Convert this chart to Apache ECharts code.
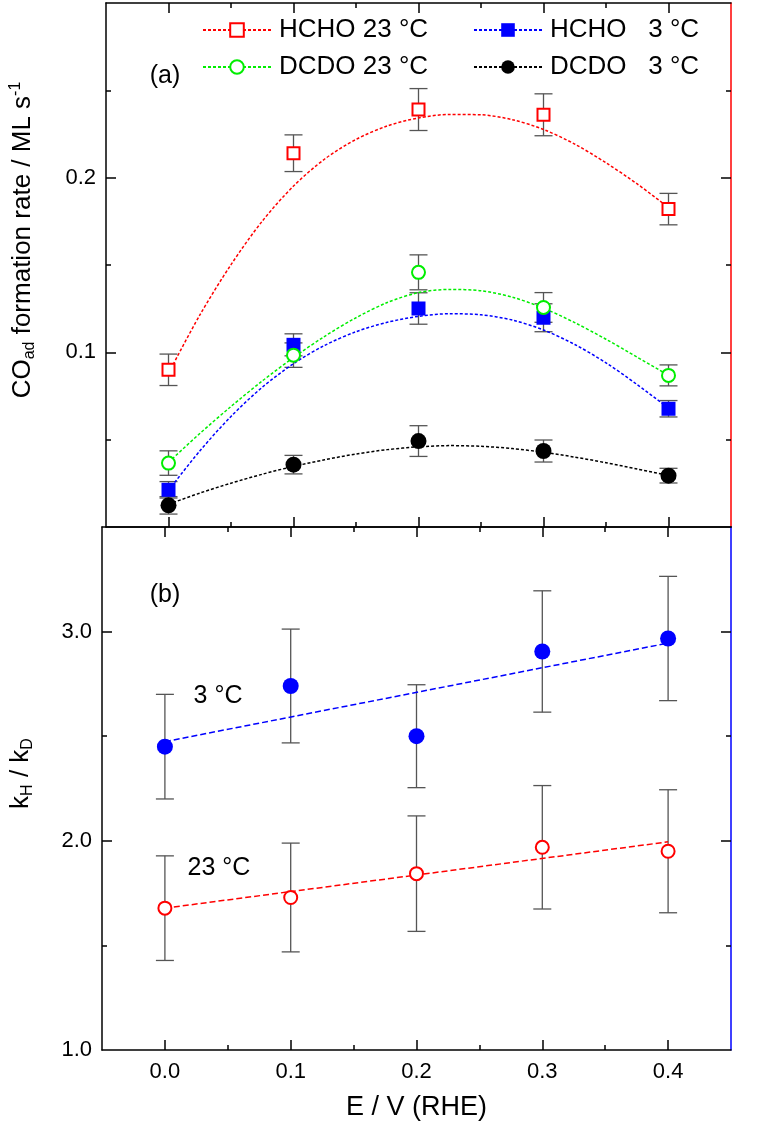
<!DOCTYPE html>
<html><head><meta charset="utf-8">
<script src="https://cdn.jsdelivr.net/npm/echarts@6/dist/echarts.min.js"></script>
<style>html,body{margin:0;padding:0;background:#fff}#chart{width:765px;height:1127px}</style>
</head><body><div id="chart"></div>
<script>
// ---------- data ----------
const potentials = [0, 0.1, 0.2, 0.3, 0.4];
const fitPotentials = [0, 0.025, 0.05, 0.075, 0.1, 0.125, 0.15, 0.175, 0.2,
                       0.225, 0.25, 0.275, 0.3, 0.325, 0.35, 0.375, 0.4];

const hcho23 = [0.090, 0.214, 0.239, 0.236, 0.182];
const hcho23Err = [0.009, 0.0105, 0.012, 0.012, 0.009];
const dcdo23 = [0.0366, 0.0984, 0.1458, 0.1257, 0.0868];
const dcdo23Err = [0.007, 0.007, 0.010, 0.0085, 0.006];
const hcho3 = [0.0213, 0.1043, 0.1251, 0.1198, 0.0677];
const hcho3Err = [0.0047, 0.0063, 0.009, 0.008, 0.0047];
const dcdo3 = [0.0124, 0.0357, 0.0492, 0.0435, 0.0294];
const dcdo3Err = [0.005, 0.0053, 0.0088, 0.0063, 0.0042];

const hcho23Fit = [0.088, 0.1213, 0.1502, 0.1751, 0.1952, 0.2107, 0.2219, 0.2296, 0.2342,
                   0.2362, 0.2360, 0.2332, 0.2276, 0.2192, 0.2085, 0.1964, 0.1829];
const dcdo23Fit = [0.037, 0.0535, 0.069, 0.0836, 0.0970, 0.1092, 0.1198, 0.1285, 0.1342,
                   0.1360, 0.1353, 0.1316, 0.1253, 0.1170, 0.1075, 0.0972, 0.0868];
const hcho3Fit  = [0.021, 0.0435, 0.0633, 0.0800, 0.0935, 0.1040, 0.1118, 0.1172, 0.1206,
                   0.1221, 0.1215, 0.1185, 0.1128, 0.1045, 0.0940, 0.0815, 0.068];
const dcdo3Fit  = [0.013, 0.0194, 0.0251, 0.0302, 0.0347, 0.0385, 0.0418, 0.0443, 0.0459,
                   0.0466, 0.0462, 0.0449, 0.0428, 0.0400, 0.0368, 0.0332, 0.0295];

const kie3 = [2.45, 2.74, 2.50, 2.905, 2.967];
const kie3Err = [0.25, 0.272, 0.246, 0.29, 0.297];
const kie23 = [1.678, 1.729, 1.843, 1.969, 1.950];
const kie23Err = [0.25, 0.26, 0.276, 0.295, 0.294];
const fitLineX = [0, 0.4];
const kie3Fit = [2.474, 2.945];
const kie23Fit = [1.678, 1.995];

const xMajor = [0, 0.1, 0.2, 0.3, 0.4];
const xMinor = [0.05, 0.15, 0.25, 0.35];
const yTopMajor = [0.1, 0.2];
const yTopMinor = [0.05, 0.15, 0.25];
const yBotLabels = [1, 2, 3];
const yBotMajor = [2, 3];
const yBotMinor = [1.5, 2.5];

// ---------- helpers ----------
const FONT = 'Liberation Sans, Arial, Helvetica, sans-serif';
const tickStyle = {color: '#000', width: 1.5};

function xAx(grid, pos, ticks, len, showLine, extra) {
  return Object.assign({
    type: 'value', gridIndex: grid, position: pos, min: -0.05, max: 0.45,
    axisLine: {show: showLine, onZero: false, lineStyle: {color: '#000', width: 1.5}},
    axisTick: {show: true, inside: true, length: len, customValues: ticks, lineStyle: tickStyle},
    axisLabel: {show: false},
    splitLine: {show: false}
  }, extra || {});
}
function yAx(grid, pos, min, max, ticks, len, showLine, lineColor, extra) {
  return Object.assign({
    type: 'value', gridIndex: grid, position: pos, min: min, max: max,
    axisLine: {show: showLine, onZero: false, lineStyle: {color: lineColor, width: 1.5}},
    axisTick: {show: true, inside: true, length: len, customValues: ticks, lineStyle: tickStyle},
    axisLabel: {show: false},
    splitLine: {show: false}
  }, extra || {});
}
function errSeries(xi, yi, vals, errs) {
  return {
    type: 'custom', xAxisIndex: xi, yAxisIndex: yi, z: 1, silent: true,
    data: potentials.map((x, i) => [x, vals[i] - errs[i], vals[i] + errs[i]]),
    encode: {x: 0, y: [1, 2]},
    renderItem: function (params, api) {
      const x = api.value(0);
      const lo = api.coord([x, api.value(1)]);
      const hi = api.coord([x, api.value(2)]);
      const hw = 9;
      const st = {stroke: '#555', lineWidth: 1.3};
      return {type: 'group', children: [
        {type: 'line', shape: {x1: lo[0], y1: lo[1], x2: hi[0], y2: hi[1]}, style: st},
        {type: 'line', shape: {x1: lo[0] - hw, y1: lo[1], x2: lo[0] + hw, y2: lo[1]}, style: st},
        {type: 'line', shape: {x1: hi[0] - hw, y1: hi[1], x2: hi[0] + hw, y2: hi[1]}, style: st}
      ]};
    }
  };
}
function fitSeries(name, xi, yi, xs, ys, color, dash, symbol) {
  return {
    type: 'line', name: name, xAxisIndex: xi, yAxisIndex: yi, z: 2, silent: true,
    data: xs.map((x, i) => [x, ys[i]]),
    smooth: xs.length > 2 ? 0.3 : false, showSymbol: false, symbol: symbol, symbolSize: 14,
    itemStyle: {color: color},
    lineStyle: {color: color, width: 1.5, type: dash}
  };
}
function markSeries(name, xi, yi, vals, symbol, size, fill, stroke, bw) {
  return {
    type: 'scatter', name: name, xAxisIndex: xi, yAxisIndex: yi, z: 3, silent: true,
    data: potentials.map((x, i) => [x, vals[i]]),
    symbol: symbol, symbolSize: size,
    itemStyle: {color: fill, borderColor: stroke, borderWidth: bw, opacity: 1}
  };
}

const dotted = [3, 2];
const dashed = [6, 3];
const legendText = {fontSize: 26, color: '#000', lineHeight: 26, fontFamily: FONT, padding: [0, 0, 0, 3]};

const option = {
  animation: false,
  backgroundColor: '#fff',
  textStyle: {fontFamily: FONT},
  grid: [
    {left: 102, right: 34, top: 3, height: 524},
    {left: 102, right: 34, top: 527, height: 523}
  ],
  xAxis: [
    xAx(0, 'bottom', xMajor, 10, true),
    xAx(0, 'bottom', xMinor, 5, false),
    xAx(0, 'top', xMajor, 10, true),
    xAx(0, 'top', xMinor, 5, false),
    xAx(1, 'bottom', xMajor, 10, true, {
      axisLabel: {show: true, customValues: xMajor, fontSize: 22, color: '#000', margin: 11, fontFamily: FONT,
        formatter: v => Number(v).toFixed(1)},
      name: 'E / V (RHE)', nameLocation: 'middle', nameGap: 44,
      nameTextStyle: {fontSize: 27, color: '#000', fontFamily: FONT}
    }),
    xAx(1, 'bottom', xMinor, 5, false),
    xAx(1, 'top', xMajor, 10, true),
    xAx(1, 'top', xMinor, 5, false)
  ],
  yAxis: [
    yAx(0, 'left', 0, 0.3, yTopMajor, 10, true, '#000', {
      axisLabel: {show: true, customValues: yTopMajor, fontSize: 22, color: '#000', margin: 10, fontFamily: FONT,
        formatter: v => Number(v).toFixed(1)},
      name: '{n|CO}{s|ad}{n| formation rate / ML s}{p|-1}',
      nameLocation: 'middle', nameGap: 68,
      nameTextStyle: {fontSize: 26, color: '#000', fontFamily: FONT, padding: [0, 0, 0, 50],
        rich: {
          n: {fontSize: 26, lineHeight: 30, color: '#000', fontFamily: FONT},
          s: {fontSize: 16, lineHeight: 6, verticalAlign: 'bottom', color: '#000', fontFamily: FONT},
          p: {fontSize: 16, lineHeight: 10, verticalAlign: 'top', color: '#000', fontFamily: FONT}
        }}
    }),
    yAx(0, 'left', 0, 0.3, yTopMinor, 5, false, '#000'),
    yAx(0, 'right', 0, 0.3, yTopMajor, 10, true, '#ff0000'),
    yAx(0, 'right', 0, 0.3, yTopMinor, 5, false, '#ff0000'),
    yAx(1, 'left', 1, 3.5, yBotMajor, 10, true, '#000', {
      axisLabel: {show: true, customValues: yBotLabels, fontSize: 22, color: '#000', margin: 10, fontFamily: FONT,
        formatter: v => Number(v).toFixed(1)},
      name: '{n|k}{s|H}{n| / k}{s|D}',
      nameLocation: 'middle', nameGap: 66,
      nameTextStyle: {fontSize: 26, color: '#000', fontFamily: FONT, padding: [0, 0, 0, 30],
        rich: {
          n: {fontSize: 26, lineHeight: 30, color: '#000', fontFamily: FONT},
          s: {fontSize: 16, lineHeight: 6, verticalAlign: 'bottom', color: '#000', fontFamily: FONT}
        }}
    }),
    yAx(1, 'left', 1, 3.5, yBotMinor, 5, false, '#000'),
    yAx(1, 'right', 1, 3.5, yBotMajor, 10, true, '#0000ff'),
    yAx(1, 'right', 1, 3.5, yBotMinor, 5, false, '#0000ff')
  ],
  legend: [
    {data: ['HCHO 23 °C', 'DCDO 23 °C'], orient: 'vertical', left: 202, top: 17, padding: 0,
      itemWidth: 68, itemHeight: 17, itemGap: 11, selectedMode: false, textStyle: legendText},
    {data: ['HCHO   3 °C', 'DCDO   3 °C'], orient: 'vertical', left: 473, top: 17, padding: 0,
      itemWidth: 68, itemHeight: 17, itemGap: 11, selectedMode: false, textStyle: legendText}
  ],
  graphic: [
    {type: 'text', style: {x: 165, y: 76, text: '(a)', fontSize: 25, fontFamily: FONT, fill: '#000',
      align: 'center', verticalAlign: 'middle', textAlign: 'center', textVerticalAlign: 'middle'}},
    {type: 'text', style: {x: 165, y: 595, text: '(b)', fontSize: 25, fontFamily: FONT, fill: '#000',
      align: 'center', verticalAlign: 'middle', textAlign: 'center', textVerticalAlign: 'middle'}},
    {type: 'text', style: {x: 218, y: 696, text: '3 °C', fontSize: 25, fontFamily: FONT, fill: '#000',
      align: 'center', verticalAlign: 'middle', textAlign: 'center', textVerticalAlign: 'middle'}},
    {type: 'text', style: {x: 219, y: 868, text: '23 °C', fontSize: 25, fontFamily: FONT, fill: '#000',
      align: 'center', verticalAlign: 'middle', textAlign: 'center', textVerticalAlign: 'middle'}}
  ],
  series: [
    errSeries(0, 0, hcho23, hcho23Err),
    errSeries(0, 0, hcho3, hcho3Err),
    errSeries(0, 0, dcdo23, dcdo23Err),
    errSeries(0, 0, dcdo3, dcdo3Err),
    errSeries(4, 4, kie3, kie3Err),
    errSeries(4, 4, kie23, kie23Err),

    fitSeries('HCHO 23 °C', 0, 0, fitPotentials, hcho23Fit, '#ff0000', dotted, 'emptyRect'),
    fitSeries('HCHO   3 °C', 0, 0, fitPotentials, hcho3Fit, '#0000ff', dotted, 'rect'),
    fitSeries('DCDO 23 °C', 0, 0, fitPotentials, dcdo23Fit, '#00ee00', dotted, 'emptyCircle'),
    fitSeries('DCDO   3 °C', 0, 0, fitPotentials, dcdo3Fit, '#000000', dotted, 'circle'),
    fitSeries('kH/kD 3 °C fit', 4, 4, fitLineX, kie3Fit, '#0000ff', dashed, 'none'),
    fitSeries('kH/kD 23 °C fit', 4, 4, fitLineX, kie23Fit, '#ff0000', dashed, 'none'),

    markSeries('HCHO 23 °C data', 0, 0, hcho23, 'rect', 12, '#fff', '#ff0000', 2),
    markSeries('HCHO 3 °C data', 0, 0, hcho3, 'rect', 14, '#0000ff', '#0000ff', 0),
    markSeries('DCDO 23 °C data', 0, 0, dcdo23, 'circle', 13, '#fff', '#00ee00', 2),
    markSeries('DCDO 3 °C data', 0, 0, dcdo3, 'circle', 16, '#000', '#000', 0),
    markSeries('kH/kD 3 °C', 4, 4, kie3, 'circle', 16, '#0000ff', '#0000ff', 0),
    markSeries('kH/kD 23 °C', 4, 4, kie23, 'circle', 13, '#fff', '#ff0000', 2)
  ]
};

const chart = echarts.init(document.getElementById('chart'), null, {renderer: 'canvas'});
chart.setOption(option);
</script>
</body></html>
